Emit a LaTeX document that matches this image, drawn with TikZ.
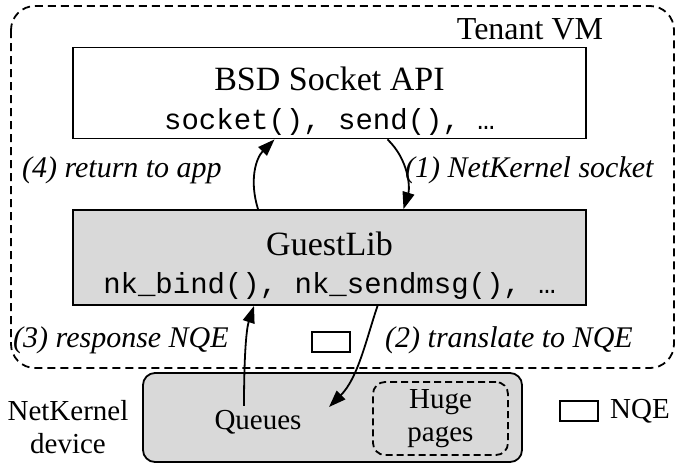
\documentclass[tikz,border=0pt]{standalone}
\usepackage{fontspec}
\setmainfont{Liberation Serif}
\setmonofont{Liberation Mono}
\usetikzlibrary{arrows.meta,positioning}

\begin{document}
\begin{tikzpicture}[x=1pt, y=-1pt, ->, >={Triangle[length=17pt,width=12pt]}, line width=1.8pt,
		box/.style={draw, minimum width=513pt, align=center},
		lbl/.style={font=\fontsize{30}{34}\selectfont\itshape},
		txt/.style={font=\fontsize{29}{33}\selectfont},
		nqe/.style={draw, minimum width=38pt, minimum height=20pt, inner sep=0pt}]
		\useasboundingbox (0,0) rectangle (684,469);
		\draw[-, dash pattern=on 8pt off 5pt, rounded corners=24pt] (11,6) rectangle (674,368);
		\node[font=\fontsize{32}{36}\selectfont] (vm) at (530,29) {Tenant VM};
		\node[box, fill=white, minimum height=86pt] (bsd) at (329.5,93)
			{\fontsize{34}{38}\selectfont\rule{0pt}{40pt}BSD Socket API\\[16pt] \fontsize{29}{33}\ttfamily socket(), send(), …};
		\node[box, fill=black!15, minimum height=95pt, below of=bsd, node distance=164.5pt] (glib)
			{\fontsize{34}{38}\selectfont\rule{0pt}{40pt}GuestLib\\[16pt] \fontsize{29}{33}\ttfamily nk\_bind(), nk\_sendmsg(), …};
		
		% (4) and (1)
		\draw ([xshift=-71.5pt]glib.north) .. controls (249,180) and (256,158) .. ([xshift=-55pt]bsd.south);
		\node[lbl, anchor=east] (l4) at (226,170) {(4) return to app};
		\draw ([xshift=58pt]bsd.south) .. controls (409,160) and (410,188) .. ([xshift=74pt]glib.north);
		\node[lbl, anchor=west] (l1) at (401,170) {(1) NetKernel socket};
		
		% device
		\node[draw, fill=black!15, rounded corners=12pt, minimum width=379pt, minimum height=89pt] (dev) at (332.5,417.5) {};
		\node[txt] (q) at (258,422) {Queues};
		\node[txt, draw, dash pattern=on 7pt off 4pt, rounded corners=12pt, minimum width=135pt, minimum height=73pt, align=center] (huge) at (440.5,418.5) {Huge\\[0pt]pages};
		\node[txt, align=center] (nk) at (68,427) {NetKernel\\[0pt]device};
		\coordinate (qin) at (329,407);
		
		% (3) and (2)
		\draw ([xshift=-14pt]q.north) .. controls (244,360) and (246,330) .. ([xshift=-75.5pt]glib.south);
		\node[lbl, anchor=east] (l3) at (233,340) {(3) response NQE};
		\draw ([xshift=48pt]glib.south) .. controls (366,340) and (358,378) .. (qin);
		\node[lbl, anchor=west] (l2) at (381,340) {(2) translate to NQE};
		
		% NQE marks
		\node[nqe] (n1) at (331,342) {};
		\node[nqe] (n2) at (579,411) {};
		\node[txt, anchor=west] (n2l) at (606,411) {NQE};
		
\end{tikzpicture}
\end{document}
